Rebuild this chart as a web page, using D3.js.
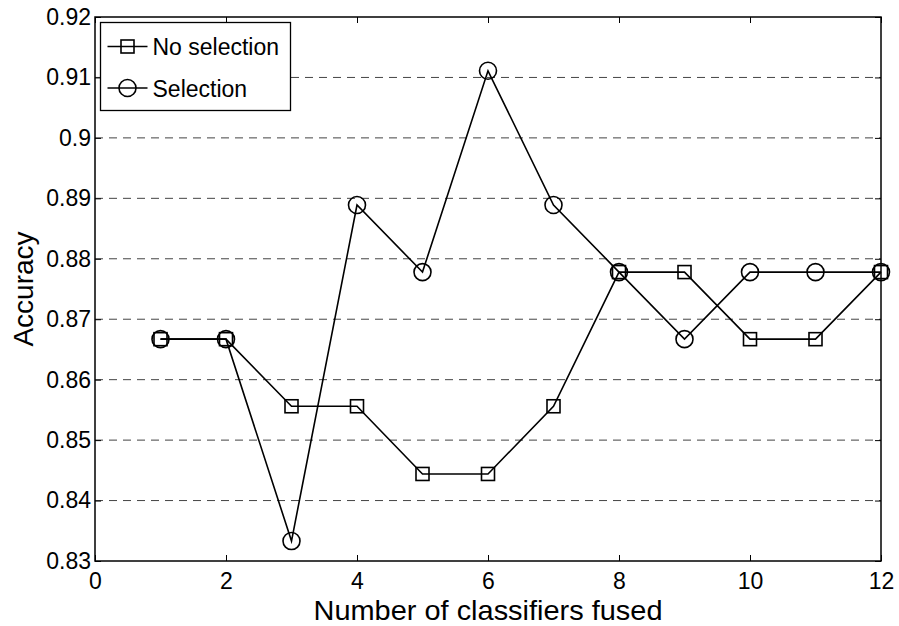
<!DOCTYPE html>
<html>
<head>
<meta charset="utf-8">
<script src="https://cdn.jsdelivr.net/npm/d3@7"></script>
<style>
  body { margin: 0; background: #fff; }
  text { font-family: "Liberation Sans", Arial, sans-serif; }
</style>
</head>
<body>
<svg id="chart" width="899" height="626"></svg>
<script>
const classifiers = [1, 2, 3, 4, 5, 6, 7, 8, 9, 10, 11, 12];
const noSelection = [0.8667, 0.8667, 0.8556, 0.8556, 0.8444, 0.8444, 0.8556, 0.8778, 0.8778, 0.8667, 0.8667, 0.8778];
const selection = [0.8667, 0.8667, 0.8333, 0.8889, 0.8778, 0.9111, 0.8889, 0.8778, 0.8667, 0.8778, 0.8778, 0.8778];
const xTicks = [0, 2, 4, 6, 8, 10, 12];
const yTicks = [0.83, 0.84, 0.85, 0.86, 0.87, 0.88, 0.89, 0.9, 0.91, 0.92];
const seriesNames = ['No selection', 'Selection'];

const LEFT = 95, RIGHT = 881, TOP = 17, BOTTOM = 561;

const svg = d3.select('#chart');

const xScale = d3.scaleLinear().domain([0, 12]).range([LEFT, RIGHT]);
const yScale = d3.scaleLinear().domain([0.83, 0.92]).range([BOTTOM, TOP]);

// horizontal dashed grid
svg.append('g')
  .selectAll('line')
  .data(yTicks.slice(1, -1))
  .join('line')
  .attr('x1', LEFT).attr('x2', RIGHT)
  .attr('y1', d => yScale(d)).attr('y2', d => yScale(d))
  .attr('stroke', '#444')
  .attr('stroke-width', 1)
  .attr('stroke-dasharray', '8,6');

// axes, ticks inside like matlab
const tickLen = 6;
svg.append('g')
  .attr('transform', `translate(0,${BOTTOM})`)
  .call(d3.axisBottom(xScale).tickValues(xTicks).tickSize(-tickLen).tickPadding(12).tickFormat(d3.format('d')))
  .call(g => g.select('.domain').remove());
svg.append('g')
  .attr('transform', `translate(0,${TOP})`)
  .call(d3.axisTop(xScale).tickValues(xTicks).tickSize(-tickLen).tickFormat(''))
  .call(g => g.select('.domain').remove());
svg.append('g')
  .attr('transform', `translate(${LEFT},0)`)
  .call(d3.axisLeft(yScale).tickValues(yTicks).tickSize(-tickLen).tickPadding(4).tickFormat(d => d3.format('.2~f')(d)))
  .call(g => g.select('.domain').remove());
svg.append('g')
  .attr('transform', `translate(${RIGHT},0)`)
  .call(d3.axisRight(yScale).tickValues(yTicks).tickSize(-tickLen).tickFormat(''))
  .call(g => g.select('.domain').remove());

svg.selectAll('.tick text')
  .attr('font-size', 23)
  .attr('fill', '#000')
  .attr('font-family', '"Liberation Sans", Arial, sans-serif');
svg.selectAll('.tick line').attr('stroke', '#000');

svg.append('rect')
  .attr('x', LEFT).attr('y', TOP)
  .attr('width', RIGHT - LEFT).attr('height', BOTTOM - TOP)
  .attr('fill', 'none').attr('stroke', '#000').attr('stroke-width', 1.5);

// lines
const line = d3.line()
  .x((d, i) => xScale(classifiers[i]))
  .y(d => yScale(d));

[noSelection, selection].forEach(vals => {
  svg.append('path')
    .datum(vals)
    .attr('d', line)
    .attr('fill', 'none')
    .attr('stroke', '#000')
    .attr('stroke-width', 1.6);
});

const sq = 13;
const rad = 8.5;
svg.append('g').selectAll('rect')
  .data(noSelection)
  .join('rect')
  .attr('x', (d, i) => xScale(classifiers[i]) - sq / 2)
  .attr('y', d => yScale(d) - sq / 2)
  .attr('width', sq).attr('height', sq)
  .attr('fill', 'none').attr('stroke', '#000').attr('stroke-width', 1.6);

svg.append('g').selectAll('circle')
  .data(selection)
  .join('circle')
  .attr('cx', (d, i) => xScale(classifiers[i]))
  .attr('cy', d => yScale(d))
  .attr('r', rad)
  .attr('fill', 'none').attr('stroke', '#000').attr('stroke-width', 1.6);

// axis labels
svg.append('text')
  .attr('x', (LEFT + RIGHT) / 2)
  .attr('y', 620)
  .attr('text-anchor', 'middle')
  .attr('font-size', 28)
  .attr('textLength', 349)
  .attr('lengthAdjust', 'spacingAndGlyphs')
  .text('Number of classifiers fused');

svg.append('text')
  .attr('transform', `translate(33,${(TOP + BOTTOM) / 2}) rotate(-90)`)
  .attr('text-anchor', 'middle')
  .attr('font-size', 28)
  .text('Accuracy');

// legend
const legend = svg.append('g').attr('transform', 'translate(100.5,22.5)');
legend.append('rect')
  .attr('width', 190).attr('height', 88)
  .attr('fill', '#fff').attr('stroke', '#000').attr('stroke-width', 1.3);

seriesNames.forEach((name, i) => {
  const cy = 24 + i * 41.5;
  legend.append('line')
    .attr('x1', 7).attr('x2', 47)
    .attr('y1', cy).attr('y2', cy)
    .attr('stroke', '#000').attr('stroke-width', 1.6);
  if (i === 0) {
    legend.append('rect')
      .attr('x', 27 - sq / 2).attr('y', cy - sq / 2)
      .attr('width', sq).attr('height', sq)
      .attr('fill', 'none').attr('stroke', '#000').attr('stroke-width', 1.6);
  } else {
    legend.append('circle')
      .attr('cx', 27).attr('cy', cy).attr('r', rad)
      .attr('fill', 'none').attr('stroke', '#000').attr('stroke-width', 1.6);
  }
  legend.append('text')
    .attr('x', 52).attr('y', cy + 8.5)
    .attr('font-size', 23)
    .text(name);
});
</script>
</body>
</html>
